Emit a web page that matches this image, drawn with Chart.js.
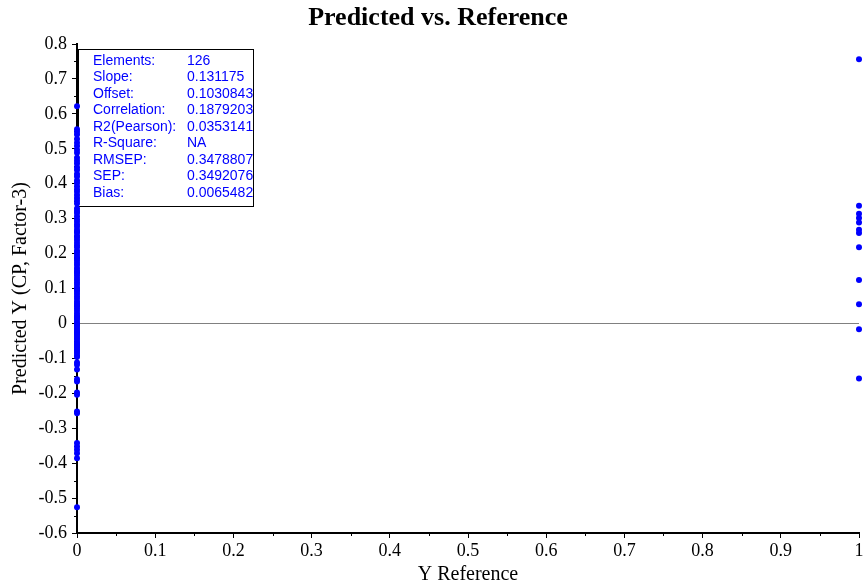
<!DOCTYPE html>
<html lang="pt-BR">
<head>
<meta charset="UTF-8">
<title>Predicted vs. Reference</title>
<script src="https://cdn.jsdelivr.net/npm/chart.js@4.4.1/dist/chart.umd.min.js"></script>
<style>
    html, body { margin: 0; padding: 0; background: #fff; }
    #wrap { width: 863px; height: 586px; }
</style>
</head>
<body>

<div id="wrap">
    <canvas id="predChart" width="863" height="586"></canvas>
</div>

<script>

// ======================================
// DADOS
// ======================================

// Y previsto das amostras com referência = 0
const previstoRef0 = [
    0.622,
    0.556, 0.549, 0.541, 0.528, 0.517, 0.508, 0.497, 0.489, 0.474, 0.466,
    0.458, 0.447, 0.439, 0.428, 0.421, 0.409, 0.402, 0.393, 0.384, 0.377,
    0.368, 0.359, 0.351, 0.343, 0.329, 0.322, 0.316, 0.307, 0.298, 0.291,
    0.283, 0.277, 0.268, 0.261, 0.252, 0.246, 0.239, 0.231, 0.224, 0.218,
    0.209, 0.203, 0.196, 0.188, 0.181, 0.174, 0.167, 0.159, 0.152, 0.146,
    0.138, 0.131, 0.124, 0.117, 0.111, 0.103, 0.096, 0.091, 0.084, 0.077,
    0.071, 0.063, 0.057, 0.049, 0.043, 0.036, 0.029, 0.023, 0.016, 0.011,
    0.004, -0.002, -0.007, -0.013, -0.019, -0.024, -0.031, -0.036, -0.042, -0.047,
    -0.053, -0.058, -0.064, -0.069, -0.074, -0.079, -0.085, -0.091,
    0.262, 0.187, 0.145, 0.098, 0.052, 0.019, -0.004, -0.027, -0.061, -0.096,
    -0.112, -0.118, -0.132, -0.160, -0.166, -0.198, -0.204, -0.252, -0.257,
    -0.342, -0.352, -0.362, -0.372, -0.386, -0.526
];

// Y previsto das amostras com referência = 1
const previstoRef1 = [
    0.756, 0.337, 0.314, 0.302, 0.289, 0.268, 0.259, 0.218, 0.124, 0.055, -0.017, -0.158
];

const ticksX = [0, 0.1, 0.2, 0.3, 0.4, 0.5, 0.6, 0.7, 0.8, 0.9, 1];
const ticksY = [-0.6, -0.5, -0.4, -0.3, -0.2, -0.1, 0, 0.1, 0.2, 0.3, 0.4, 0.5, 0.6, 0.7, 0.8];

const estatNomes = [
    "Elements:", "Slope:", "Offset:", "Correlation:", "R2(Pearson):",
    "R-Square:", "RMSEP:", "SEP:", "Bias:"
];
const estatValores = [
    "126", "0.131175", "0.1030843", "0.1879203", "0.0353141",
    "NA", "0.3478807", "0.3492076", "0.0065482"
];


// ======================================
// DESENHOS EXTRAS (títulos, caixa, linha do zero)
// ======================================

const FONTE_SERIF = "'Liberation Serif', 'Times New Roman', serif";

const extras = {

    id: "extras",

    beforeDatasetsDraw(chart) {

        const { ctx, chartArea, scales } = chart;

        ctx.save();

        // linha do zero
        const y0 = Math.round(scales.y.getPixelForValue(0)) + 0.5;
        ctx.strokeStyle = "#808080";
        ctx.lineWidth = 1;
        ctx.beginPath();
        ctx.moveTo(chartArea.left, y0);
        ctx.lineTo(chartArea.right, y0);
        ctx.stroke();

        // ticks menores (0.05)
        ctx.strokeStyle = "#000";
        ctx.lineWidth = 1;
        ctx.beginPath();
        for (let v = -0.55; v < 0.8; v += 0.1) {
            const py = Math.round(scales.y.getPixelForValue(v)) + 0.5;
            ctx.moveTo(chartArea.left - 3, py);
            ctx.lineTo(chartArea.left, py);
        }
        for (let v = 0.05; v < 1; v += 0.1) {
            const px = Math.round(scales.x.getPixelForValue(v)) + 0.5;
            ctx.moveTo(px, chartArea.bottom);
            ctx.lineTo(px, chartArea.bottom + 3);
        }
        ctx.stroke();

        // caixa de estatísticas
        ctx.fillStyle = "#fff";
        ctx.fillRect(78.5, 49.5, 175, 157);
        ctx.strokeStyle = "#000";
        ctx.strokeRect(78.5, 49.5, 175, 157);

        ctx.fillStyle = "#0000ff";
        ctx.font = "14px 'Liberation Sans', Arial, sans-serif";
        ctx.textBaseline = "middle";
        ctx.textAlign = "left";

        estatNomes.forEach((nome, i) => {
            const ly = 61 + i * 16.5;
            ctx.fillText(nome, 93, ly);
            ctx.fillText(estatValores[i], 187, ly);
        });

        ctx.restore();

    },

    afterDraw(chart) {

        const { ctx, chartArea } = chart;
        const meioX = (chartArea.left + chartArea.right) / 2;
        const meioY = (chartArea.top + chartArea.bottom) / 2;

        ctx.save();
        ctx.fillStyle = "#000";
        ctx.textAlign = "center";
        ctx.textBaseline = "middle";

        // título
        ctx.font = "bold 26px " + FONTE_SERIF;
        ctx.fillText("Predicted vs. Reference", 438, 18);

        // eixo X
        ctx.font = "20px " + FONTE_SERIF;
        ctx.fillText("Y Reference", meioX, 575);

        // eixo Y
        ctx.translate(21, meioY);
        ctx.rotate(-Math.PI / 2);
        ctx.fillText("Predicted Y (CP, Factor-3)", 0, 0);

        ctx.restore();

    }

};


// ======================================
// GRÁFICO
// ======================================

const formatarTick = v => String(+Number(v).toFixed(1));

const eixoBase = {
    type: "linear",
    grid: {
        display: true,
        drawOnChartArea: false,
        drawTicks: true,
        tickLength: 5,
        tickColor: "#000"
    },
    border: {
        display: true,
        color: "#000",
        width: 2
    },
    ticks: {
        color: "#000",
        font: { family: FONTE_SERIF, size: 18 },
        autoSkip: false,
        maxRotation: 0,
        callback: formatarTick
    }
};

new Chart(document.getElementById("predChart"), {

    type: "scatter",

    data: {
        datasets: [
            {
                label: "Ref 0",
                data: previstoRef0.map(v => ({ x: 0, y: v })),
                backgroundColor: "#0000ff",
                borderWidth: 0,
                pointRadius: 3,
                clip: false
            },
            {
                label: "Ref 1",
                data: previstoRef1.map(v => ({ x: 1, y: v })),
                backgroundColor: "#0000ff",
                borderWidth: 0,
                pointRadius: 3,
                clip: false
            }
        ]
    },

    options: {
        responsive: false,
        animation: false,
        devicePixelRatio: 1,
        layout: {
            padding: { top: 44, right: 4, left: 0, bottom: 0 }
        },
        plugins: {
            legend: { display: false },
            tooltip: { enabled: false }
        },
        scales: {
            x: {
                ...eixoBase,
                min: 0,
                max: 1,
                ticks: { ...eixoBase.ticks, padding: 2 },
                afterBuildTicks: s => { s.ticks = ticksX.map(v => ({ value: v })); },
                afterFit: s => {
                    s.height = 53;
                    s.paddingLeft = 0;
                    s.paddingRight = 0;
                }
            },
            y: {
                ...eixoBase,
                min: -0.6,
                max: 0.8,
                ticks: { ...eixoBase.ticks, padding: 5 },
                afterBuildTicks: s => { s.ticks = ticksY.map(v => ({ value: v })); },
                afterFit: s => {
                    s.width = 77;
                    s.paddingTop = 0;
                    s.paddingBottom = 0;
                }
            }
        }
    },

    plugins: [extras]

});

</script>
</body>
</html>
